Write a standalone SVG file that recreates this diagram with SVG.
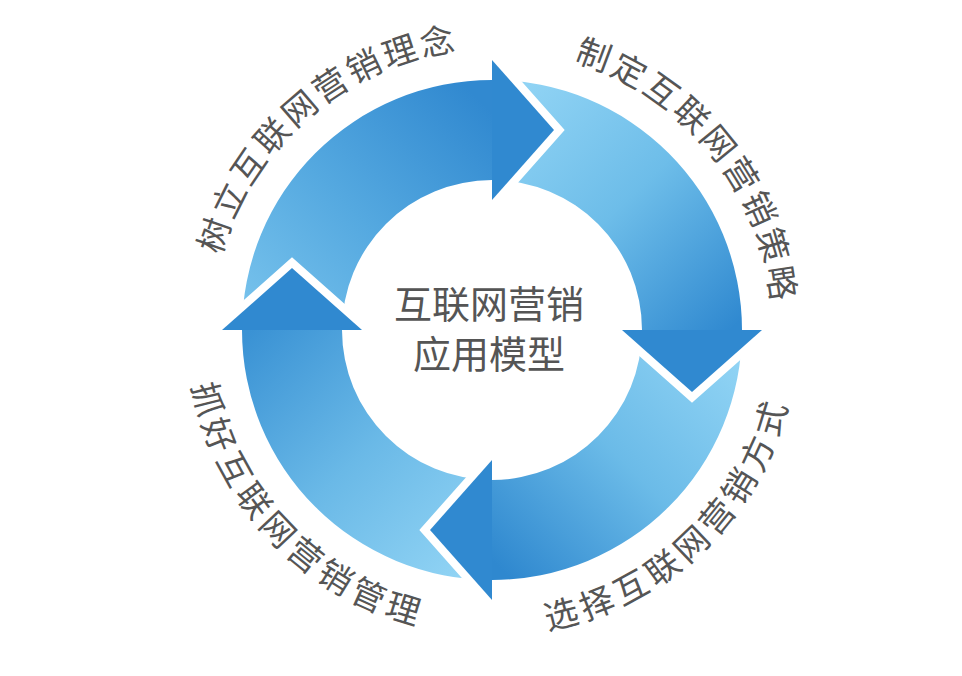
<svg xmlns="http://www.w3.org/2000/svg" width="962" height="676" viewBox="0 0 962 676">
  <style>
    .head { fill: #3089d0; }
    .gap { fill: none; stroke: #ffffff; stroke-width: 16; stroke-linejoin: miter; stroke-linecap: butt; }
    .lbl { font-family: "Noto Sans CJK SC", "Noto Sans", sans-serif; font-size: 34px; fill: #555555; }
    .ctr { font-family: "Noto Sans CJK SC", "Noto Sans", sans-serif; font-size: 38px; fill: #555555; text-anchor: middle; }
  </style>
  <defs>
    <linearGradient id="gTL" gradientUnits="userSpaceOnUse" x1="262" y1="360" x2="500" y2="120">
      <stop offset="0" stop-color="#7cc6ee"/>
      <stop offset="0.5" stop-color="#55a9e0"/>
      <stop offset="1" stop-color="#3189d0"/>
    </linearGradient>
    <linearGradient id="gTR" gradientUnits="userSpaceOnUse" x1="492" y1="100" x2="720" y2="340">
      <stop offset="0" stop-color="#93d5f5"/>
      <stop offset="0.5" stop-color="#6dbde9"/>
      <stop offset="1" stop-color="#3089d0"/>
    </linearGradient>
    <linearGradient id="gBR" gradientUnits="userSpaceOnUse" x1="722" y1="330" x2="492" y2="560">
      <stop offset="0" stop-color="#93d5f5"/>
      <stop offset="0.5" stop-color="#6bbbe8"/>
      <stop offset="1" stop-color="#2f88cf"/>
    </linearGradient>
    <linearGradient id="gBL" gradientUnits="userSpaceOnUse" x1="492" y1="560" x2="262" y2="320">
      <stop offset="0" stop-color="#93d5f5"/>
      <stop offset="0.5" stop-color="#6ab9e7"/>
      <stop offset="1" stop-color="#3a92d4"/>
    </linearGradient>
    <path id="pTL" d="M 211.7 310.4 A 281 281 0 0 1 511.6 49.7"/>
    <path id="pTR" d="M 518.9 50.3 A 281 281 0 0 1 771.7 356.9"/>
    <path id="pBR" d="M 481.4 634.8 A 305 305 0 0 0 796.8 340.6"/>
    <path id="pBL" d="M 187.2 319.4 A 305 305 0 0 0 481.4 634.8"/>
  </defs>
  <rect width="962" height="676" fill="#ffffff"/>

  <g id="connectors">
    <path id="body-tl" fill="url(#gTL)" d="M 342 330 L 242 330 A 250 250 0 0 1 492 80 L 492 180 A 150 150 0 0 0 342 330 Z"/>
    <path id="body-tr" fill="url(#gTR)" d="M 492 180 L 492 80 A 250 250 0 0 1 742 330 L 642 330 A 150 150 0 0 0 492 180 Z"/>
    <path id="body-br" fill="url(#gBR)" d="M 642 330 L 742 330 A 250 250 0 0 1 492 580 L 492 480 A 150 150 0 0 0 642 330 Z"/>
    <path id="body-bl" fill="url(#gBL)" d="M 492 480 L 492 580 A 250 250 0 0 1 242 330 L 342 330 A 150 150 0 0 0 492 480 Z"/>

    <g id="head-top">
      <path class="gap" d="M 492 60 L 554 130 L 492 200"/>
      <polygon class="head" points="492,60 554,130 492,200"/>
    </g>
    <g id="head-right">
      <path class="gap" d="M 762 330 L 692 392 L 622 330"/>
      <polygon class="head" points="762,330 692,392 622,330"/>
    </g>
    <g id="head-bottom">
      <path class="gap" d="M 492 600 L 430 530 L 492 460"/>
      <polygon class="head" points="492,600 430,530 492,460"/>
    </g>
    <g id="head-left">
      <path class="gap" d="M 222 330 L 292 268 L 362 330"/>
      <polygon class="head" points="222,330 292,268 362,330"/>
    </g>
  </g>

  <g id="node-center">
    <text class="ctr" x="489" y="318">互联网营销</text>
    <text class="ctr" x="489" y="368">应用模型</text>
  </g>

  <g id="node-1">
    <text class="lbl" letter-spacing="3"><textPath href="#pTL" startOffset="222" text-anchor="middle">树立互联网营销理念</textPath></text>
  </g>
  <g id="node-2">
    <text class="lbl" letter-spacing="3"><textPath href="#pTR" startOffset="222" text-anchor="middle">制定互联网营销策略</textPath></text>
  </g>
  <g id="node-3">
    <text class="lbl" letter-spacing="5"><textPath href="#pBR" startOffset="242" text-anchor="middle">选择互联网营销方式</textPath></text>
  </g>
  <g id="node-4">
    <text class="lbl" letter-spacing="5"><textPath href="#pBL" startOffset="242" text-anchor="middle">抓好互联网营销管理</textPath></text>
  </g>
</svg>
